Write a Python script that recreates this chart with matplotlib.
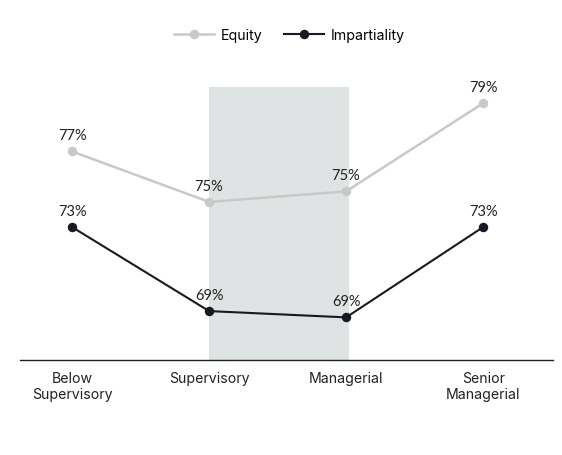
import matplotlib
matplotlib.use("Agg")
import matplotlib.pyplot as plt
from matplotlib.lines import Line2D

categories = ["Below\nSupervisory", "Supervisory", "Managerial", "Senior\nManagerial"]
equity = [77.0, 74.6, 75.1, 79.3]
impartiality = [73.4, 69.4, 69.1, 73.4]
equity_labels = ["77%", "75%", "75%", "79%"]
imp_labels = ["73%", "69%", "69%", "73%"]

eq_color = "#c6cac9"
imp_color = "#191922"
shade_color = "#dfe3e3"

fig = plt.figure(figsize=(5.62, 4.56), dpi=100)
ax = fig.add_axes([0.0356, 0.2083, 0.9484, 0.5987])

x = list(range(len(categories)))
ax.axvspan(1, 2.02, color=shade_color, zorder=0, lw=0)
ax.plot(x, equity, color=eq_color, lw=1.8, marker="o", ms=5.8, zorder=3)
ax.plot(x, impartiality, color=imp_color, lw=1.5, marker="o", ms=5.8, zorder=3)

lab_font = dict(family=["Lato", "DejaVu Sans"], fontsize=10.5, color="#222222")
for xi, v, t in zip(x, equity, equity_labels):
    ax.annotate(t, (xi, v), xytext=(0, 6.5), textcoords="offset points",
                ha="center", va="bottom", **lab_font)
for xi, v, t in zip(x, impartiality, imp_labels):
    ax.annotate(t, (xi, v), xytext=(0, 6.5), textcoords="offset points",
                ha="center", va="bottom", **lab_font)

ax.set_xlim(-0.38, 3.51)
ax.set_ylim(67.07, 80.07)
ax.set_xticks(x)
ax.set_xticklabels(categories, family=["Inter", "DejaVu Sans"], fontsize=10.2, color="#222222",
                   linespacing=1.15)
ax.tick_params(axis="x", length=0, pad=8)
ax.set_yticks([])
for s in ["top", "right", "left"]:
    ax.spines[s].set_visible(False)
ax.spines["bottom"].set_color("#222222")
ax.spines["bottom"].set_linewidth(1.0)

handles = [Line2D([0], [0], color=eq_color, lw=1.8, marker="o", ms=5.8),
           Line2D([0], [0], color=imp_color, lw=1.5, marker="o", ms=5.8)]
fig.legend(handles, ["Equity", "Impartiality"], loc="center", bbox_to_anchor=(0.515, 0.921),
           ncol=2, frameon=False, prop={"family": ["Inter", "DejaVu Sans"], "size": 10.2},
           handlelength=2.8, columnspacing=1.5, handletextpad=0.5)

fig.savefig("out.png", dpi=100)
